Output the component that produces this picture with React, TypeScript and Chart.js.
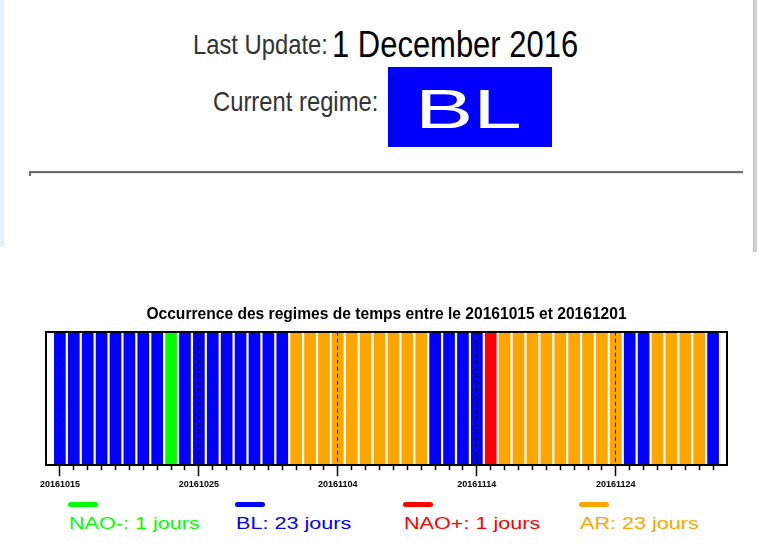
import React, { useEffect, useRef } from 'react';
import { Chart, registerables } from 'chart.js';

Chart.register(...registerables);

// ---- data ----
const dates: string[] = [
  '20161015', '20161016', '20161017', '20161018', '20161019', '20161020', '20161021', '20161022',
  '20161023', '20161024', '20161025', '20161026', '20161027', '20161028', '20161029', '20161030',
  '20161031', '20161101', '20161102', '20161103', '20161104', '20161105', '20161106', '20161107',
  '20161108', '20161109', '20161110', '20161111', '20161112', '20161113', '20161114', '20161115',
  '20161116', '20161117', '20161118', '20161119', '20161120', '20161121', '20161122', '20161123',
  '20161124', '20161125', '20161126', '20161127', '20161128', '20161129', '20161130', '20161201',
];

const regimes: string[] = [
  'BL', 'BL', 'BL', 'BL', 'BL', 'BL', 'BL', 'BL',
  'NAO-', 'BL', 'BL', 'BL', 'BL', 'BL', 'BL', 'BL',
  'BL', 'AR', 'AR', 'AR', 'AR', 'AR', 'AR', 'AR',
  'AR', 'AR', 'AR', 'BL', 'BL', 'BL', 'BL', 'NAO+',
  'AR', 'AR', 'AR', 'AR', 'AR', 'AR', 'AR', 'AR',
  'AR', 'BL', 'BL', 'AR', 'AR', 'AR', 'AR', 'BL',
];

const regimeNames: string[] = ['NAO-', 'BL', 'NAO+', 'AR'];
const regimeColors: string[] = ['#00ff00', '#0000ff', '#ff0000', '#ffa500'];
const tickLabels: string[] = ['20161015', '20161025', '20161104', '20161114', '20161124'];
const lastUpdate = '1 December 2016';

// ---- layout (not data) ----
const legendLeft = [68, 235, 403, 579];

const colorOf = (r: string) => regimeColors[regimeNames.indexOf(r)];
const FONT = '"Liberation Sans", Arial, Helvetica, sans-serif';

function RegimeChart() {
  const ref = useRef<HTMLCanvasElement | null>(null);
  useEffect(() => {
    if (!ref.current) return;
    const majorIdx = tickLabels.map((t) => dates.indexOf(t));
    const frameAxis = (position: string, horizontal: boolean) => ({
      type: 'linear' as const,
      position,
      display: true,
      offset: false,
      bounds: 'data',
      min: horizontal ? -1 : 0,
      max: horizontal ? dates.length : 1,
      ticks: { display: false },
      grid: { display: false, drawTicks: false, offset: false },
      border: { display: true, color: '#000', width: 2, z: 2 },
    });
    const chart = new Chart(ref.current, {
      type: 'bar',
      data: {
        datasets: [
          {
            data: regimes.map((r, i) => ({ x: i, y: 1 })),
            backgroundColor: regimes.map(colorOf),
            borderWidth: 0,
            barPercentage: 0.84,
            categoryPercentage: 1,
            xAxisID: 'x',
            yAxisID: 'y',
          },
        ],
      },
      options: {
        animation: false,
        responsive: true,
        maintainAspectRatio: false,
        layout: { padding: { left: 46, right: 32, top: 0, bottom: 7 } },
        plugins: {
          legend: { display: false },
          tooltip: { enabled: false },
          title: {
            display: true,
            text: 'Occurrence des regimes de temps entre le ' + dates[0] + ' et ' + dates[dates.length - 1],
            color: '#000',
            font: { family: FONT, size: 15.6, weight: 'bold' },
            padding: { top: 5, bottom: 8 },
          },
        },
        scales: {
          x: {
            type: 'linear',
            position: 'bottom',
            offset: false,
            bounds: 'data',
            min: -1,
            max: dates.length,
            weight: 0,
            afterBuildTicks: (scale: any) => {
              scale.ticks = dates.map((_, i) => ({ value: i }));
            },
            ticks: { display: false },
            grid: {
              offset: false,
              drawOnChartArea: false,
              drawTicks: true,
              tickLength: 5,
              tickWidth: 1.5,
              tickColor: '#000',
              z: 2,
            },
            border: { display: true, color: '#000', width: 2, z: 2 },
          },
          x2: {
            type: 'linear',
            position: 'bottom',
            offset: false,
            bounds: 'data',
            min: -1,
            max: dates.length,
            weight: 1,
            afterBuildTicks: (scale: any) => {
              scale.ticks = majorIdx.map((v) => ({ value: v }));
            },
            ticks: {
              display: true,
              autoSkip: false,
              maxRotation: 0,
              padding: 3,
              color: '#000',
              font: { family: FONT, size: 9, weight: 'bold' },
              callback: (value: any) => dates[value as number],
            },
            grid: {
              display: true,
              offset: false,
              drawOnChartArea: true,
              drawTicks: true,
              tickLength: 6,
              tickWidth: 1.5,
              tickColor: '#000',
              tickBorderDash: [],
              color: 'rgba(0,0,0,0.85)',
              lineWidth: 1,
              z: 1,
            },
            border: { display: false, dash: [4, 3] },
          },
          xTop: frameAxis('top', true),
          y: frameAxis('left', false),
          yRight: frameAxis('right', false),
        } as any,
      },
    });
    return () => chart.destroy();
  }, []);
  return <canvas ref={ref} />;
}

export default function App() {
  const counts = regimeNames.map((n) => regimes.filter((r) => r === n).length);
  const current = regimes[regimes.length - 1];
  const abs = (extra: React.CSSProperties): React.CSSProperties => ({
    position: 'absolute',
    whiteSpace: 'nowrap',
    fontFamily: FONT,
    transformOrigin: 'left top',
    ...extra,
  });
  return (
    <div style={{ position: 'absolute', left: 0, top: 0, width: 759, height: 554, background: '#fff', overflow: 'hidden' }}>
      {/* page decorations */}
      <div style={{ position: 'absolute', left: 0, top: 0, width: 4, height: 247, background: '#e4f3f9' }} />
      <div style={{ position: 'absolute', left: 753, top: 0, width: 3, height: 252, background: '#d2d2d2', borderLeft: '1px solid #bbb' }} />

      <div style={abs({ left: 193, top: 31, fontSize: 28, lineHeight: '28px', color: '#333', transform: 'scaleX(0.85)' })}>
        Last Update:
      </div>
      <div style={abs({ left: 332, top: 26.5, fontSize: 36, lineHeight: '36px', color: '#000', transform: 'scaleX(0.86)' })}>
        {lastUpdate}
      </div>
      <div style={abs({ left: 213, top: 88, fontSize: 28, lineHeight: '28px', color: '#333', transform: 'scaleX(0.85)' })}>
        Current regime:
      </div>
      <div style={{ position: 'absolute', left: 388, top: 67, width: 164, height: 80, background: colorOf(current) }} />
      <div style={abs({ left: 415, top: 80.5, fontSize: 56, lineHeight: '56px', color: '#fff', transform: 'scaleX(1.56)' })}>
        {current}
      </div>

      <div style={{ position: 'absolute', left: 29, top: 171, width: 714, height: 0, borderTop: '2px solid #6a6a6a', borderBottom: '1px solid #e6e6e6' }} />
      <div style={{ position: 'absolute', left: 29, top: 171, width: 2, height: 5, background: '#6a6a6a' }} />

      <div style={{ position: 'absolute', left: 0, top: 300, width: 759, height: 200 }}>
        <RegimeChart />
      </div>

      {regimeNames.map((n, i) => (
        <React.Fragment key={n}>
          <div style={{ position: 'absolute', left: legendLeft[i], top: 502, width: 30, height: 5, borderRadius: 3, background: regimeColors[i] }} />
          <div style={abs({ left: legendLeft[i] + 1, top: 514.5, fontSize: 17, lineHeight: '17px', color: regimeColors[i], transform: 'scaleX(1.27)' })}>
            {n}: {counts[i]} jours
          </div>
        </React.Fragment>
      ))}
    </div>
  );
}
